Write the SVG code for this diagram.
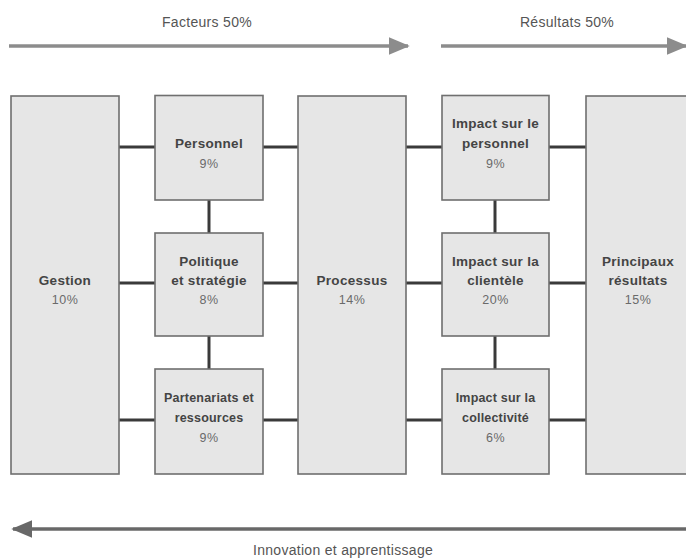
<svg xmlns="http://www.w3.org/2000/svg" width="686" height="560" viewBox="0 0 686 560">
<defs>
<style>
.box{fill:#e6e6e6;stroke:#6f6f6f;stroke-width:1.6}
.t{font-family:"Liberation Sans",Arial,sans-serif;font-weight:bold;font-size:13.5px;fill:#444;text-anchor:middle;letter-spacing:0.3px}
.ts{font-family:"Liberation Sans",Arial,sans-serif;font-weight:bold;font-size:12.5px;fill:#444;text-anchor:middle;letter-spacing:0.2px}
.p{font-family:"Liberation Sans",Arial,sans-serif;font-size:12.5px;fill:#6a6a6a;text-anchor:middle;letter-spacing:0.5px}
.h{font-family:"Liberation Sans",Arial,sans-serif;font-size:14px;fill:#555;text-anchor:middle;letter-spacing:0.3px}
.c{stroke:#3a3a3a;stroke-width:3;fill:none}
</style>
<marker id="ahTop" markerWidth="6" markerHeight="5" refX="5.5" refY="2.5" orient="auto" markerUnits="strokeWidth">
<path d="M0,0 L6,2.5 L0,5 Z" fill="#8c8c8c"/>
</marker>
<marker id="ahBot" markerWidth="6" markerHeight="5" refX="5.5" refY="2.5" orient="auto" markerUnits="strokeWidth">
<path d="M0,0 L6,2.5 L0,5 Z" fill="#686868"/>
</marker>
</defs>
<rect width="686" height="560" fill="#ffffff"/>

<g id="top-arrows">
<text class="h" x="207" y="27">Facteurs 50%</text>
<line x1="9" y1="46" x2="408" y2="46" stroke="#8c8c8c" stroke-width="3.5" marker-end="url(#ahTop)"/>
<text class="h" x="567" y="27">Résultats 50%</text>
<line x1="441" y1="46" x2="686" y2="46" stroke="#8c8c8c" stroke-width="3.5" marker-end="url(#ahTop)"/>
</g>

<g id="connectors">
<line class="c" x1="119" y1="147" x2="155" y2="147"/>
<line class="c" x1="119" y1="283" x2="155" y2="283"/>
<line class="c" x1="119" y1="420" x2="155" y2="420"/>
<line class="c" x1="263" y1="147" x2="298" y2="147"/>
<line class="c" x1="263" y1="283" x2="298" y2="283"/>
<line class="c" x1="263" y1="420" x2="298" y2="420"/>
<line class="c" x1="209" y1="200" x2="209" y2="233"/>
<line class="c" x1="209" y1="336" x2="209" y2="369"/>
<line class="c" x1="406" y1="147" x2="442" y2="147"/>
<line class="c" x1="406" y1="283" x2="442" y2="283"/>
<line class="c" x1="406" y1="420" x2="442" y2="420"/>
<line class="c" x1="549" y1="147" x2="586" y2="147"/>
<line class="c" x1="549" y1="283" x2="586" y2="283"/>
<line class="c" x1="549" y1="420" x2="586" y2="420"/>
<line class="c" x1="495" y1="200" x2="495" y2="233"/>
<line class="c" x1="495" y1="336" x2="495" y2="369"/>
</g>

<g id="gestion">
<rect class="box" x="11" y="96" width="108" height="378"/>
<text class="t" x="65" y="285">Gestion</text>
<text class="p" x="65" y="304">10%</text>
</g>

<g id="personnel">
<rect class="box" x="155" y="95.5" width="108" height="104.5"/>
<text class="t" x="209" y="148">Personnel</text>
<text class="p" x="209" y="168">9%</text>
</g>

<g id="politique">
<rect class="box" x="155" y="233" width="108" height="103"/>
<text class="t" x="209" y="266">Politique</text>
<text class="t" x="209" y="285">et stratégie</text>
<text class="p" x="209" y="304">8%</text>
</g>

<g id="partenariats">
<rect class="box" x="155" y="369" width="108" height="105"/>
<text class="ts" x="209" y="402">Partenariats et</text>
<text class="ts" x="209" y="422">ressources</text>
<text class="p" x="209" y="442">9%</text>
</g>

<g id="processus">
<rect class="box" x="298" y="96" width="108" height="378"/>
<text class="t" x="352" y="285">Processus</text>
<text class="p" x="352" y="304">14%</text>
</g>

<g id="impact-personnel">
<rect class="box" x="442" y="95.5" width="107" height="104.5"/>
<text class="t" x="495.5" y="128">Impact sur le</text>
<text class="t" x="495.5" y="148">personnel</text>
<text class="p" x="495.5" y="168">9%</text>
</g>

<g id="impact-clientele">
<rect class="box" x="442" y="233" width="107" height="103"/>
<text class="t" x="495.5" y="266">Impact sur la</text>
<text class="t" x="495.5" y="285">clientèle</text>
<text class="p" x="495.5" y="304">20%</text>
</g>

<g id="impact-collectivite">
<rect class="box" x="442" y="369" width="107" height="105"/>
<text class="ts" x="495.5" y="402">Impact sur la</text>
<text class="ts" x="495.5" y="422">collectivité</text>
<text class="p" x="495.5" y="442">6%</text>
</g>

<g id="principaux">
<rect class="box" x="586" y="96" width="108" height="378"/>
<text class="t" x="638" y="266">Principaux</text>
<text class="t" x="638" y="285">résultats</text>
<text class="p" x="638" y="304">15%</text>
</g>

<g id="bottom-arrow">
<line x1="686" y1="529" x2="13" y2="529" stroke="#686868" stroke-width="3.5" marker-end="url(#ahBot)"/>
<text class="h" x="343" y="555">Innovation et apprentissage</text>
</g>
</svg>
